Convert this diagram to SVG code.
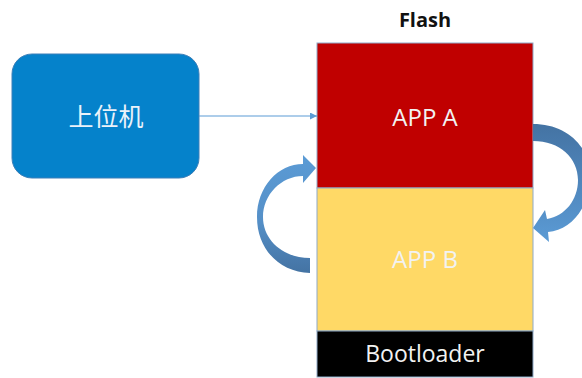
<svg xmlns="http://www.w3.org/2000/svg" width="582" height="378" viewBox="0 0 582 378">
  <style>
    .lbl { font-family: "Open Sans", "Liberation Sans", sans-serif; fill: #F2F2F2; text-anchor: middle; }
    .seg { stroke: #8FAAC8; stroke-width: 1; }
  </style>
  <defs>
    <marker id="tri" viewBox="0 0 10 10" refX="10" refY="5" markerWidth="7" markerHeight="7" orient="auto" markerUnits="userSpaceOnUse">
      <path d="M0 0 L10 5 L0 10 Z" fill="#5B9BD5"/>
    </marker>
    <linearGradient id="gLeft" x1="0" y1="0" x2="0" y2="1">
      <stop offset="0" stop-color="#5B9BD5"/>
      <stop offset="0.55" stop-color="#5590C8"/>
      <stop offset="1" stop-color="#4473A3"/>
    </linearGradient>
    <linearGradient id="gRight" x1="0" y1="0" x2="0" y2="1">
      <stop offset="0" stop-color="#4473A3"/>
      <stop offset="0.5" stop-color="#4F86BC"/>
      <stop offset="1" stop-color="#5B9BD5"/>
    </linearGradient>
  </defs>

  <!-- Host PC -->
  <g id="host">
    <rect x="12" y="54" width="187" height="124" rx="20" ry="20" fill="#0582CB" stroke="#3D7FB8" stroke-width="1"/>
    <text x="106" y="126" font-family="'Noto Sans CJK SC', sans-serif" font-size="25" fill="#EAF2FA" text-anchor="middle">上位机</text>
  </g>

  <!-- Flash memory map -->
  <g id="flash">
    <text x="425" y="27" font-family="'Open Sans', 'Liberation Sans', sans-serif" font-size="20" font-weight="bold" fill="#111" text-anchor="middle">Flash</text>
    <g id="app-a">
      <rect class="seg" x="317" y="43" width="216" height="145" fill="#C00000"/>
      <text class="lbl" x="425" y="126" font-size="24">APP A</text>
    </g>
    <g id="app-b">
      <rect class="seg" x="317" y="188" width="216" height="143" fill="#FFD966"/>
      <text class="lbl" x="425" y="268" font-size="24">APP B</text>
    </g>
    <g id="bootloader">
      <rect class="seg" x="317" y="331" width="216" height="46" fill="#000000"/>
      <text class="lbl" x="425" y="362" font-size="23">Bootloader</text>
    </g>
  </g>

  <!-- Connectors -->
  <g id="connectors">
    <line x1="199" y1="116" x2="317" y2="116" stroke="#5B9BD5" stroke-width="1" marker-end="url(#tri)"/>
    <!-- curved arrow from APP B up into APP A -->
    <path d="M310 273 C280 272 257 250 257 217 C257 187 278 164 303 164 L303 155 L316 168 L303 183 L303 176 C281 176 263 195 263 217 C263 240 283 258 310 258 Z" fill="url(#gLeft)"/>
    <!-- curved arrow from APP A down into APP B -->
    <path d="M533 124 C568 124 592 148 590 180 C588 210 570 230 548 232 L549 242 L533 228 L545 210 L547 219 C565 216 578 200 578 180 C578 158 560 141 533 141 Z" fill="url(#gRight)"/>
  </g>
</svg>
